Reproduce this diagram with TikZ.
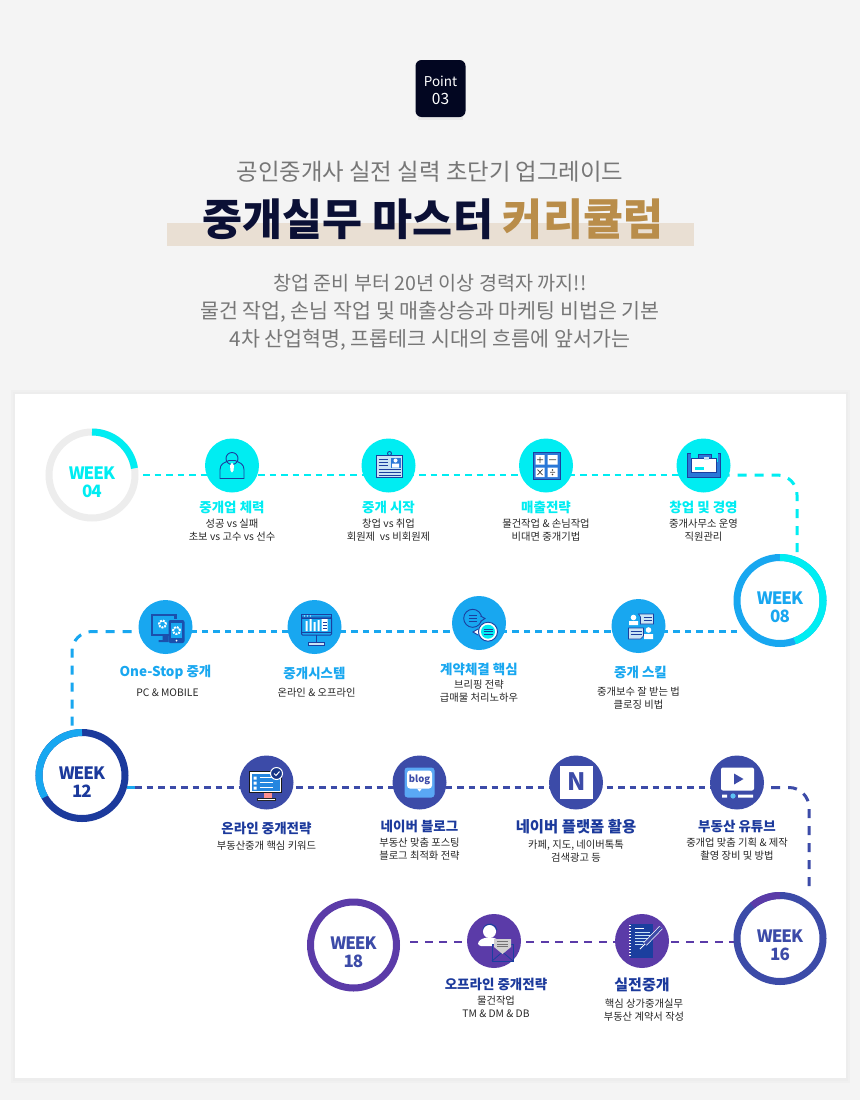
\documentclass[tikz,border=0pt]{standalone}
\usepackage{fontspec}
\setmainfont{Noto Sans CJK KR}
\newfontfamily\wkfont[LetterSpace=-6]{Noto Sans CJK KR}
\usepackage{tikz}
\usetikzlibrary{positioning, backgrounds}
\definecolor{pagebg}{HTML}{F4F4F4}
\definecolor{cardedge}{HTML}{F0F0F0}
\definecolor{cardedgeb}{HTML}{EDEDED}
\definecolor{badgebg}{HTML}{020621}
\definecolor{headgray}{HTML}{777777}
\definecolor{navy}{HTML}{0B1035}
\definecolor{gold}{HTML}{B98D4A}
\definecolor{sand}{HTML}{E9DFD3}
\definecolor{aqua}{HTML}{00EDF2}
\definecolor{sky}{HTML}{18A7F0}
\definecolor{royal}{HTML}{1C3A9C}
\definecolor{indigo}{HTML}{3C4BA8}
\definecolor{violet}{HTML}{5B3BA8}
\definecolor{inkblue}{HTML}{1B3F9F}
\definecolor{midblue}{HTML}{2A78D8}
\definecolor{paleblue}{HTML}{C9E4F5}
\definecolor{blogblue}{HTML}{5AA8F5}

\begin{document}
\begin{tikzpicture}[x=1pt, y=1pt,
    wk/.style={circle, draw, line width=7pt, minimum size=86pt, inner sep=0pt, outer sep=0pt},
    wktxt/.style={inner sep=0pt, align=center, font=\wkfont\bfseries\fontsize{17}{18}\selectfont},
    ringseg/.style={line width=7pt},
    icn/.style={circle, minimum size=54pt, inner sep=0pt, outer sep=0pt},
    ttl/.style={inner sep=0pt, font=\bfseries\fontsize{13.5}{16}\selectfont},
    sub/.style={inner sep=0pt, align=center, font=\fontsize{10.3}{13}\selectfont, text=black!85},
    thin track/.style={line width=2.4pt, dash pattern=on 6.5pt off 5pt},
    wide track/.style={line width=3pt, dash pattern=on 9pt off 8pt, rounded corners=20pt},
    headline/.style={inner sep=0pt, text=headgray, font=\fontsize{20.6}{24}\selectfont},
    ico/.style={draw=inkblue, line width=.9pt}]

\useasboundingbox (0,0) rectangle (860,-1100);

% Page and card
\begin{scope}[on background layer]
\fill[pagebg] (0,0) rectangle (860,-1100);
\fill[cardedge] (11,-390) rectangle (850,-1083);
\fill[cardedgeb] (13,-392) rectangle (848,-1081);
\fill[white] (15,-394) rectangle (846,-1078);
\end{scope}

% Header
\fill[black!9] (418,-66) rectangle (463,-119.5);
\node[fill=badgebg, rounded corners=6pt, minimum width=50pt, minimum height=57pt, inner sep=0pt, outer sep=0pt] (badge) at (440.5,-88.5) {};
\node[inner sep=0pt, align=center, text=white, font=\fontsize{13.5}{18}\selectfont] (badgetxt) at (440.5,-90) {Point\\{\fontsize{15.5}{18}\selectfont 03}};
\node[headline, font=\fontsize{23.4}{26}\selectfont] (lead) at (430,-172) {공인중개사 실전 실력 초단기 업그레이드};
\fill[sand] (167,-223) rectangle (694,-246);
\node[inner sep=0pt, text=navy, font=\bfseries\fontsize{43.5}{48}\selectfont] (title) at (433,-219) {중개실무 마스터 \textcolor{gold}{커리큘럼}};
\node[headline, font=\fontsize{19.6}{24}\selectfont] (para1) at (430,-283) {창업 준비 부터 20년 이상 경력자 까지!!};
\node[headline] (para2) at (430,-311.5) {물건 작업, 손님 작업 및 매출상승과 마케팅 비법은 기본};
\node[headline] (para3) at (430,-340) {4차 산업혁명, 프롭테크 시대의 흐름에 앞서가는};

% Week rings
\node[wk, draw=black!7] (wk04) at (92,-475) {};
\node[wk, draw=sky] (wk08) at (780,-600.5) {};
\node[wk, draw=royal] (wk12) at (82,-775.5) {};
\node[wk, draw=indigo] (wk16) at (780,-938.5) {};
\node[wk, draw=violet] (wk18) at (353.5,-945) {};
\draw[ringseg, aqua] ([shift={(90:43)}]wk04.center) arc[start angle=90, end angle=9, radius=43pt];
\draw[ringseg, aqua] ([shift={(90:43)}]wk08.center) arc[start angle=90, end angle=-70, radius=43pt];
\draw[ringseg, sky] ([shift={(90:43)}]wk12.center) arc[start angle=90, end angle=210, radius=43pt];
\draw[ringseg, violet] ([shift={(90:43)}]wk16.center) arc[start angle=90, end angle=130, radius=43pt];
\node[wktxt, text=aqua] (wl04) at ([yshift=-7pt]wk04.center) {WEEK\\04};
\node[wktxt, text=sky] (wl08) at ([yshift=-7pt]wk08.center) {WEEK\\08};
\node[wktxt, text=royal] (wl12) at ([yshift=-7pt]wk12.center) {WEEK\\12};
\node[wktxt, text=indigo] (wl16) at ([yshift=-7pt]wk16.center) {WEEK\\16};
\node[wktxt, text=indigo] (wl18) at ([yshift=-7pt]wk18.center) {WEEK\\18};

% Row 1 circles
\node[icn, fill=aqua, right=70pt of wk04, yshift=9.5pt] (ic1) {};
\node[icn, fill=aqua, right=102.5pt of ic1] (ic2) {};
\node[icn, fill=aqua, right=103.5pt of ic2] (ic3) {};
\node[icn, fill=aqua, right=103.5pt of ic3] (ic4) {};
% Row 2 circles
\node[icn, fill=sky] (ic8) at (638.5,-626) {};
\node[icn, fill=sky, left=105.5pt of ic8, yshift=3pt] (ic7) {};
\node[icn, fill=sky, left=110.5pt of ic7, yshift=-4pt] (ic6) {};
\node[icn, fill=sky, left=95pt of ic6] (ic5) {};
% Row 3 circles
\node[icn, fill=indigo, right=114.5pt of wk12, yshift=-7pt] (ic9) {};
\node[icn, fill=indigo, right=99pt of ic9] (ic10) {};
\node[icn, fill=indigo, right=102.5pt of ic10] (ic11) {};
\node[icn, fill=indigo, right=107pt of ic11] (ic12) {};
% Row 4 circles
\node[icn, fill=violet, right=70.5pt of wk18, yshift=4pt] (ic13) {};
\node[icn, fill=violet, right=94pt of ic13] (ic14) {};

% Dashed tracks
\begin{scope}[on background layer]
\coordinate (r1) at (ic4 |- wk04);
\draw[thin track, aqua] ([xshift=8pt]wk04.east) -- (r1);
\draw[wide track, aqua] (r1) -| ([xshift=17pt, yshift=5pt]wk08.north);
\coordinate (r2end) at ([shift={(-43,-31)}]wk08.center);
\draw[thin track, sky] (r2end) -- (r2end -| ic5);
\draw[wide track, sky] (r2end -| ic5) -| ([xshift=-10pt]wk12.north);
\coordinate (r3start) at ([shift={(45,-12)}]wk12.center);
\draw[line width=2.4pt, sky] (r3start) -- ++(8,0);
\draw[thin track, indigo] ([xshift=8pt]r3start) -- (r3start -| ic12);
\draw[wide track, indigo] (r3start -| ic12) -| ([xshift=29pt, yshift=5pt]wk16.north);
\coordinate (r4) at ([yshift=-1pt]ic13.center);
\draw[line width=2.6pt, dash pattern=on 8pt off 6.5pt, violet] (wk16.west |- r4) -- ([xshift=8pt]wk18.east |- r4);
\end{scope}

% Row 1 icons
\begin{scope}[shift={(ic1.center)}]
\draw[ico] (0,7) circle (6pt);
\draw[ico] (-12,-13) -- (-12,-4) .. controls (-12,2) and (-7,3) .. (-3,5) -- (3,5) .. controls (7,3) and (12,2) .. (12,-4) -- (12,-13) -- cycle;
\fill[white] (0,3) -- (2,0) -- (1.5,-5) -- (0,-7) -- (-1.5,-5) -- (-2,0) -- cycle;
\end{scope}
\begin{scope}[shift={(ic2.center)}]
\draw[ico, fill=paleblue] (-12,-12) rectangle (14,10);
\draw[ico] (1,12) circle (2pt);
\draw[ico, line width=.7pt] (-10,6) -- (-1,6) (-10,3) -- (-1,3) (-10,0) -- (-1,0) (-10,-4) -- (12,-4) (-10,-7) -- (12,-7) (-10,-10) -- (12,-10);
\fill[midblue] (2,-2) rectangle (12,8);
\fill[white] (7,5) circle (2pt) (3.5,-2) rectangle (10.5,2);
\end{scope}
\begin{scope}[shift={(ic3.center)}]
\draw[ico, fill=midblue] (-13,-14) rectangle (14,13);
\fill[white] (-10.5,1) rectangle (-1.5,10.5) (1.5,1) rectangle (11.5,10.5) (-10.5,-11.5) rectangle (-1.5,-2) (1.5,-11.5) rectangle (11.5,-2);
\draw[line width=.7pt, black!75] (-9,5.7) -- (-3,5.7) (-6,2.7) -- (-6,8.7) (3,5.7) -- (10,5.7) (-8.5,-9.5) -- (-3.5,-4) (-8.5,-4) -- (-3.5,-9.5) (4,-6.7) -- (9,-6.7);
\fill[black!75] (6.5,-4.5) circle (.8pt) (6.5,-9) circle (.8pt);
\end{scope}
\begin{scope}[shift={(ic4.center)}]
\draw[ico, fill=midblue] (-16,-12) rectangle (17,12);
\fill[aqua] (-13,12.6) rectangle (14,4);
\draw[ico, fill=midblue] (-5,11) rectangle (8,5);
\draw[ico, fill=white, line width=.6pt] (-12,7) rectangle (13,-7);
\fill[paleblue] (0,8.5) rectangle (5,6);
\fill[aqua] (-9,-1.5) rectangle (0,-4);
\end{scope}

% Row 2 icons
\begin{scope}[shift={(ic5.center)}]
\draw[line width=2.5pt, royal!80!sky] (3,-8) -- (-13.5,-8) -- (-13.5,12) -- (10,12) -- (10,8);
\fill[royal!80!sky] (-3,-8) rectangle (3,-13) (-7,-13) rectangle (3,-15);
\fill[royal!80!sky, rounded corners=2pt] (3,7) rectangle (19,-16);
\fill[sky] (5.5,4) rectangle (16.5,-11);
\fill[white] (11,-13.5) circle (1pt);
\draw[line width=2pt, white, dash pattern=on 2pt off 1pt] (11,-3.5) circle (3.5pt);
\draw[line width=2pt, white, dash pattern=on 2pt off 1pt] (-3,3) circle (3.5pt);
\end{scope}
\begin{scope}[shift={(ic6.center)}]
\draw[ico, line width=1pt, rounded corners=1pt] (-13,-8) rectangle (17,10);
\draw[ico, line width=1pt] (-13,13) rectangle (17,9);
\draw[ico, line width=1pt] (-13,-5) -- (17,-5) (2,-8) -- (2,-15);
\draw[ico, line width=1pt, fill=paleblue] (-6,-18) rectangle (10,-15.5);
\fill[white] (-9,-4) rectangle (-7,6) (-5,-4) rectangle (-3,8) (-1,-4) rectangle (1,5) (3,-4) rectangle (5,7) (7,-4) rectangle (13,8);
\draw[inkblue, line width=.6pt] (8,5) -- (12,5) (8,2) -- (12,2) (8,-1) -- (12,-1);
\fill[white] (-10,11) circle (.7pt) (-7,11) circle (.7pt) (-4,11) circle (.7pt);
\end{scope}
\begin{scope}[shift={(ic7.center)}]
\draw[ico, fill=sky] (-6.3,4.7) circle (9pt);
\draw[ico, fill=sky] (1.5,7) -- (6,4.5) -- (1.5,1.5);
\draw[inkblue, line width=.7pt] (-10.5,7.5) -- (-2,7.5) (-10.5,4.7) -- (-2,4.7) (-10.5,1.9) -- (-2,1.9);
\draw[ico, fill=white] (-1,-6) -- (-6,-9) -- (-1,-12);
\draw[ico, fill=white] (9,-8.7) circle (9.5pt);
\fill[aqua] (9,-8.7) circle (7pt);
\draw[inkblue, line width=.7pt] (4.5,-6) -- (13.5,-6) (4.5,-8.7) -- (13.5,-8.7) (4.5,-11.4) -- (13.5,-11.4);
\end{scope}
\begin{scope}[shift={(ic8.center)}]
\fill[white] (-5,8.5) circle (2.8pt) (-9.5,1) rectangle (-0.5,5);
\draw[ico, fill=paleblue, line width=.6pt] (0,12) -- (15,12) -- (15,2) -- (2,2) -- (2,9) -- cycle;
\draw[ico, fill=paleblue, line width=.6pt] (-10,-2) -- (5,-2) -- (5,-10) -- (2,-13) -- (-10,-13) -- cycle;
\fill[white] (10,-4) circle (2.8pt) (5.5,-13) rectangle (14.5,-8);
\draw[inkblue, line width=.5pt] (5,9) -- (13,9) (5,6) -- (13,6) (-8,-5) -- (3,-5) (-8,-8) -- (3,-8);
\end{scope}

% Row 3 icons
\begin{scope}[shift={(ic9.center)}]
\draw[black!90, fill=white, line width=.8pt] (-17,-10) rectangle (15,11);
\fill[midblue!70!sky] (-15,-8) rectangle (13,9);
\fill[white] (-13,6) rectangle (-10,3) (-13,1) rectangle (-10,-2) (-13,-4) rectangle (-10,-7);
\draw[white, line width=.7pt] (-7,5) -- (6,5) (-7,0) -- (6,0) (-7,-5) -- (6,-5);
\fill[red!25!pink] (-3,-10.5) rectangle (5,-15);
\draw[black!85, fill=white, line width=.8pt] (-9,-15.5) rectangle (8.5,-17.5);
\draw[white, fill=inkblue!85!black, line width=1pt] (10,9) circle (6pt);
\draw[white, line width=1pt] (7.5,9) -- (9.5,7) -- (13,11);
\end{scope}
\begin{scope}[shift={(ic10.center)}]
\fill[blogblue, rounded corners=3pt] (-15,-15) rectangle (15,15);
\fill[white, rounded corners=3pt] (-12.5,-6) rectangle (12.5,12);
\fill[white] (-2.5,-6) -- (0,-9) -- (2.5,-6) -- cycle;
\node[inner sep=0pt, text=indigo, font=\bfseries\fontsize{9.5}{10}\selectfont] (blogword) at (0,3) {blog};
\end{scope}
\begin{scope}[shift={(ic11.center)}]
\fill[white] (-16,-16) rectangle (17,17);
\node[inner sep=0pt, text=indigo, font=\bfseries\fontsize{24}{26}\selectfont] (nword) at (0.5,0.5) {N};
\end{scope}
\begin{scope}[shift={(ic12.center)}]
\fill[white, rounded corners=2pt] (-16,-8) rectangle (17,15);
\fill[indigo] (-3,9) -- (6.5,3.5) -- (-3,-2) -- cycle;
\fill[white] (-15,-12) rectangle (-10,-15) (1,-12) rectangle (16,-15);
\fill[sky!70!white] (-4,-13.5) circle (2.6pt);
\end{scope}

% Row 4 icons
\begin{scope}[shift={(ic13.center)}]
\draw[inkblue, line width=1.2pt] (-11,11) arc[start angle=170, end angle=10, radius=7pt];
\fill[white] (-4.5,9.5) circle (6.5pt);
\fill[white, rounded corners=3pt] (-16,-5) -- (-16,0) -- (-9,3.5) -- (0,3.5) -- (6,0) -- (6,-5) -- cycle;
\draw[inkblue, line width=.8pt, fill=violet] (-2,-3) -- (19,-3) -- (19,-20) -- (-2,-20) -- cycle;
\draw[inkblue, line width=.8pt] (-2,-20) -- (8.5,-11) -- (19,-20);
\fill[black!18] (0,2) rectangle (17,-6) -- (17,-6) -- (8.5,-13) -- (0,-6) -- cycle;
\draw[black!55, line width=.6pt] (3,-0.5) -- (14,-0.5) (3,-3) -- (14,-3) (3,-5.5) -- (14,-5.5);
\end{scope}
\begin{scope}[shift={(ic14.center)}]
\fill[inkblue] (-12,-17) rectangle (11,17);
\draw[white, line width=1.2pt, dash pattern=on 1.4pt off 1.6pt] (-12,16) -- (-12,-16);
\fill[white] (-7,13) rectangle (2,12);
\draw[paleblue, line width=1pt] (-7,9) -- (8,9) (-7,6) -- (8,6) (-7,3) -- (8,3) (-7,0) -- (3,0) (-7,-3) -- (1,-3);
\draw[white, line width=4.4pt] (19,13.5) -- (3,-3);
\draw[indigo, line width=3pt] (19,13.5) -- (3,-3);
\draw[white, line width=.8pt] (3,-3) -- (-2,-8);
\end{scope}

% Row 1 labels
\node[ttl, text=aqua, below=8pt of ic1] (t1) {중개업 체력};
\node[sub, below=5pt of t1] (s1) {성공 vs 실패\\초보 vs 고수 vs 선수};
\node[ttl, text=aqua, below=8pt of ic2] (t2) {중개 시작};
\node[sub, below=5pt of t2] (s2) {창업 vs 취업\\회원제 \ vs 비회원제};
\node[ttl, text=aqua, below=8pt of ic3] (t3) {매출전략};
\node[sub, below=5pt of t3] (s3) {물건작업 \& 손님작업\\비대면 중개기법};
\node[ttl, text=aqua, below=8pt of ic4] (t4) {창업 및 경영};
\node[sub, below=5pt of t4] (s4) {중개사무소 운영\\직원관리};

% Row 2 labels
\node[ttl, text=sky, below=11pt of ic5] (t5) {One-Stop 중개};
\node[sub, below=9pt of t5, xshift=2pt] (s5) {PC \& MOBILE};
\node[ttl, text=sky, below=13pt of ic6] (t6) {중개시스템};
\node[sub, below=8pt of t6, xshift=2pt] (s6) {온라인 \& 오프라인};
\node[ttl, text=sky, below=13pt of ic7] (t7) {계약체결 핵심};
\node[sub, below=4pt of t7] (s7) {브리핑 전략\\급매물 처리노하우};
\node[ttl, text=sky, below=13pt of ic8, xshift=2pt] (t8) {중개 스킬};
\node[sub, below=8pt of t8, xshift=-2pt] (s8) {중개보수 잘 받는 법\\클로징 비법};

% Row 3 labels
\node[ttl, text=royal, below=12pt of ic9] (t9) {온라인 중개전략};
\node[sub, below=6pt of t9] (s9) {부동산중개 핵심 키워드};
\node[ttl, text=royal, below=10pt of ic10] (t10) {네이버 블로그};
\node[sub, below=5pt of t10] (s10) {부동산 맞춤 포스팅\\블로그 최적화 전략};
\node[ttl, text=royal, below=10pt of ic11, font=\bfseries\fontsize{15.4}{18}\selectfont] (t11) {네이버 플랫폼 활용};
\node[sub, below=5pt of t11] (s11) {카페, 지도, 네이버톡톡\\검색광고 등};
\node[ttl, text=royal, below=10pt of ic12] (t12) {부동산 유튜브};
\node[sub, below=5pt of t12] (s12) {중개업 맞춤 기획 \& 제작\\촬영 장비 및 방법};

% Row 4 labels
\node[ttl, text=royal, below=10pt of ic13, xshift=2pt] (t13) {오프라인 중개전략};
\node[sub, below=5pt of t13] (s13) {물건작업\\TM \& DM \& DB};
\node[ttl, text=royal, below=10pt of ic14, font=\bfseries\fontsize{15}{18}\selectfont] (t14) {실전중개};
\node[sub, below=6pt of t14, xshift=2pt] (s14) {핵심 상가중개실무\\부동산 계약서 작성};

\end{tikzpicture}
\end{document}
